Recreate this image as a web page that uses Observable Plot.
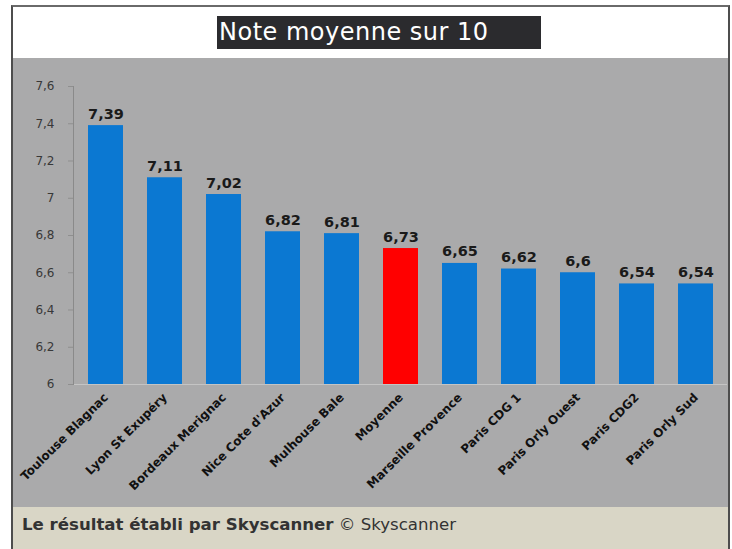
<!DOCTYPE html>
<html>
<head>
<meta charset="utf-8">
<script src="https://cdn.jsdelivr.net/npm/d3@7"></script>
<script src="https://cdn.jsdelivr.net/npm/@observablehq/plot@0.6"></script>
<style>
  html, body { margin: 0; padding: 0; background: #ffffff; }
  body { width: 732px; height: 549px; position: relative; overflow: hidden; }
  #frame { position: absolute; left: 11px; top: 5px; width: 719px; height: 544px; box-sizing: border-box;
           border-left: 2px solid #4d4d4d; border-right: 2px solid #4d4d4d; border-top: 2px solid #6a6a6a; background: #fff; }
  #title { position: absolute; left: 217px; top: 16px; width: 324px; height: 33px; background: #2b2b2e; color: #fff;
           font-family: "DejaVu Sans", sans-serif; font-size: 24px; letter-spacing: 0.5px; line-height: 33px; padding-left: 2px; box-sizing: border-box; white-space: nowrap; }
  #chart { position: absolute; left: 13px; top: 58px; width: 715px; height: 449px; }
  #footer { position: absolute; left: 13px; top: 507px; width: 715px; height: 42px; background: #d9d6c6;
            font-family: "DejaVu Sans", sans-serif; font-size: 16.6px; color: #333; line-height: 36px; padding-left: 9px; box-sizing: border-box; white-space: nowrap; }
  #footer b { color: #333; }
</style>
</head>
<body>
<div id="frame"></div>
<div id="title">Note moyenne sur 10</div>
<div id="chart"></div>
<div id="footer"><b>Le résultat établi par Skyscanner</b> © Skyscanner</div>
<script>
const categories = ["Toulouse Blagnac", "Lyon St Exupéry", "Bordeaux Merignac", "Nice Cote d'Azur", "Mulhouse Bale", "Moyenne", "Marseille Provence", "Paris CDG 1", "Paris Orly Ouest", "Paris CDG2", "Paris Orly Sud"];
const values = [7.39, 7.11, 7.02, 6.82, 6.81, 6.73, 6.65, 6.62, 6.6, 6.54, 6.54];
const highlight = "Moyenne";
const yTicks = [6, 6.2, 6.4, 6.6, 6.8, 7, 7.2, 7.4, 7.6];
const yTickLabels = ["6", "6,2", "6,4", "6,6", "6,8", "7", "7,2", "7,4", "7,6"];

const data = categories.map((name, i) => ({name, value: values[i]}));
const fmt = v => String(v).replace(".", ",");

const chart = Plot.plot({
  width: 715,
  height: 449,
  marginLeft: 60,
  marginRight: 1,
  marginTop: 28,
  marginBottom: 123,
  style: {background: "#aaaaab", fontFamily: "DejaVu Sans, sans-serif", overflow: "visible"},
  x: {domain: categories, paddingInner: 0.41, paddingOuter: 0.2, label: null},
  y: {domain: [6, 7.6], label: null},
  marks: [
    Plot.ruleY([6], {stroke: "#c4c4c4", strokeWidth: 1}),
    Plot.barY(data, {x: "name", y1: 6, y2: "value", fill: d => d.name === highlight ? "#ff0000" : "#0b78d2"}),
    Plot.text(data, {x: "name", y: "value", text: d => fmt(d.value), lineAnchor: "bottom", dy: -7,
      fontWeight: "bold", fontSize: 14.5, fill: "#1a1a1a"}),
    Plot.frame({anchor: "left", stroke: "#8a8a8a"}),
    Plot.axisY({ticks: yTicks, tickFormat: (d) => yTickLabels[yTicks.indexOf(d)], tickSize: 5, tickPadding: 14,
      fontSize: 12, fill: "#383838", stroke: "#8f8f8f", label: null}),
    Plot.axisX({tickRotate: -45, tickSize: 0, tickPadding: 11, fontSize: 12, fontWeight: "bold", fill: "#111", label: null})
  ]
});
document.getElementById("chart").appendChild(chart);
</script>
</body>
</html>
